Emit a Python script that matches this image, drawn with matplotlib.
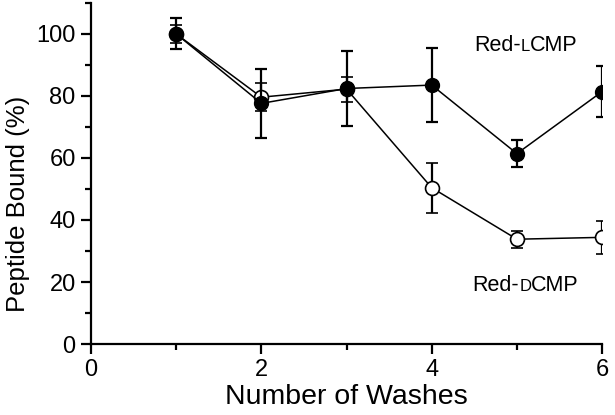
import matplotlib.pyplot as plt
from matplotlib.ticker import MultipleLocator

plt.rcParams['font.family'] = ['Liberation Sans', 'DejaVu Sans']

washes = [1, 2, 3, 4, 5, 6]

## Red-LCMP (filled)
l_bound = [100, 77.6, 82.4, 83.5, 61.4, 81.4]
l_err = [5, 11.1, 12, 11.8, 4.4, 8.1]

## Red-DCMP (open)
d_bound = [100, 79.6, 82.2, 50.4, 33.8, 34.4]
d_err = [3, 4.5, 4, 8, 2.8, 5.4]

fig = plt.figure(figsize=(6.15, 4.15), dpi=100)
ax = fig.add_axes([0.148, 0.171, 0.831, 0.822])

ax.errorbar(washes, d_bound, yerr=d_err, color='black', lw=1.1, marker='o',
            ms=10, mfc='white', mec='black', mew=1.2, capsize=4.5, elinewidth=1.6,
            capthick=1.6, zorder=3)
ax.errorbar(washes, l_bound, yerr=l_err, color='black', lw=1.1, marker='o',
            ms=10, mfc='black', mec='black', capsize=4.5, elinewidth=1.6,
            capthick=1.6, zorder=4)

ax.set_xlim(0, 6)
ax.set_ylim(0, 110)
ax.xaxis.set_major_locator(MultipleLocator(2))
ax.xaxis.set_minor_locator(MultipleLocator(1))
ax.yaxis.set_major_locator(MultipleLocator(20))
ax.yaxis.set_minor_locator(MultipleLocator(10))
ax.spines['top'].set_visible(False)
ax.spines['right'].set_visible(False)
for s in ['left', 'bottom']:
    ax.spines[s].set_linewidth(1.6)
ax.tick_params(which='major', direction='out', length=7, width=1.6, labelsize=17, pad=4)
ax.tick_params(which='minor', direction='out', length=4, width=1.6)

ax.set_xlabel('Number of Washes', fontsize=20.5, labelpad=2)
ax.set_ylabel('Peptide Bound (%)', fontsize=18.5)
ax.yaxis.set_label_coords(-0.12, 0.41)


def small_caps_label(x, y, parts):
    ## draw text pieces one after another, each with its own size
    fig.canvas.draw()
    renderer = fig.canvas.get_renderer()
    xpix, ypix = ax.transData.transform((x, y))
    for txt, size in parts:
        t = fig.text(xpix / fig.dpi / 6.15, ypix / fig.dpi / 4.15, txt,
                     fontsize=size, va='baseline', ha='left')
        bb = t.get_window_extent(renderer)
        xpix = bb.x1


small_caps_label(4.5, 94.5, [('Red-', 15.5), ('L', 12), ('CMP', 15.5)])
small_caps_label(4.48, 17, [('Red-', 15.5), ('D', 12), ('CMP', 15.5)])

fig.savefig('out.png', dpi=100)
